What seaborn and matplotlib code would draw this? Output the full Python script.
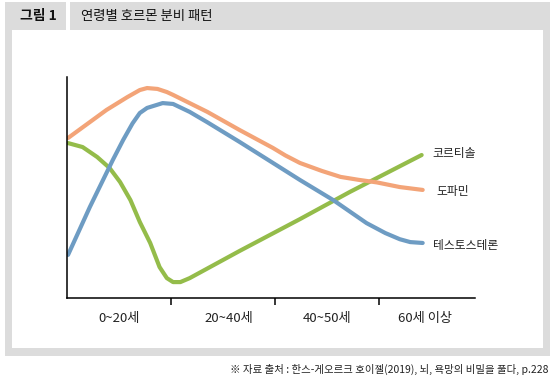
import numpy as np
import matplotlib.pyplot as plt
import pandas as pd
import seaborn as sns
from matplotlib.patches import Rectangle

# values (x: age segments 0..4, y: relative level 0..100)
dopamine_x = [0.01, 0.38, 0.58, 0.70, 0.77, 0.87, 0.96, 1.02, 1.35, 1.66, 1.98,
              2.10, 2.24, 2.45, 2.63, 2.80, 2.98, 3.20, 3.42]
dopamine_y = [72.4, 85.1, 90.9, 94.1, 95.0, 94.6, 93.2, 91.9, 84.2, 76.0, 67.9,
              64.5, 61.1, 57.5, 54.8, 53.5, 52.3, 50.2, 48.9]

testo_x = [0.01, 0.22, 0.44, 0.54, 0.63, 0.70, 0.77, 0.92, 1.02, 1.18, 1.35, 1.66,
           1.92, 2.24, 2.56, 2.88, 3.06, 3.20, 3.30, 3.42]
testo_y = [19.5, 41.2, 62.4, 71.5, 79.0, 83.7, 86.0, 88.2, 87.8, 84.2, 79.5, 70.6,
           62.9, 53.4, 44.3, 33.9, 29.4, 26.6, 25.3, 24.9]

cortisol_x = [0.01, 0.15, 0.29, 0.41, 0.51, 0.61, 0.70, 0.80, 0.89, 0.96, 1.02,
              1.09, 1.18, 1.66, 2.24, 2.72, 3.41]
cortisol_y = [70.1, 68.3, 63.8, 58.8, 52.5, 44.3, 34.4, 24.9, 14.0, 9.0, 7.2,
              7.2, 9.0, 21.3, 35.7, 48.0, 64.7]

series_names = ['코르티솔', '도파민', '테스토스테론']
age_labels = ['0~20세', '20~40세', '40~50세', '60세 이상']
label_pos = [0.5, 1.56, 2.5, 3.44]

title_tag = '그림 1'
title_text = '연령별 호르몬 분비 패턴'
source_text = '※ 자료 출처 : 한스-게오르크 호이젤(2019), 뇌, 욕망의 비밀을 풀다, p.228'

colors = {'코르티솔': '#94bc4a', '도파민': '#f3a478', '테스토스테론': '#6e9cc3'}

df = pd.concat([
    pd.DataFrame({'x': cortisol_x, 'y': cortisol_y, 'hormone': '코르티솔'}),
    pd.DataFrame({'x': dopamine_x, 'y': dopamine_y, 'hormone': '도파민'}),
    pd.DataFrame({'x': testo_x, 'y': testo_y, 'hormone': '테스토스테론'}),
])

sns.set_style('white')
plt.rcParams['font.family'] = ['Noto Sans CJK KR', 'DejaVu Sans']

W, H = 558, 380
fig = plt.figure(figsize=(W / 100, H / 100), dpi=100)
fig.patch.set_facecolor('white')

gray = '#dcdcdc'

def px_rect(x0, y0, x1, y1):
    # pixel box (top-left origin) -> figure rectangle
    fig.patches.append(Rectangle((x0 / W, 1 - y1 / H), (x1 - x0) / W, (y1 - y0) / H,
                                 transform=fig.transFigure, facecolor=gray,
                                 edgecolor='none', zorder=0))

px_rect(5, 2, 66, 30)      # tag box
px_rect(70, 2, 550, 30)    # title bar
px_rect(5, 30, 12, 356)    # left strip
px_rect(543, 30, 550, 356) # right strip
px_rect(5, 348, 550, 356)  # bottom strip

fig.text(20 / W, 1 - 16 / H, title_tag, fontsize=10, fontweight='bold',
         va='center', ha='left', color='#111111')
fig.text(81 / W, 1 - 16 / H, title_text, fontsize=9.6, fontweight='medium',
         va='center', ha='left', color='#111111')
fig.text(548 / W, 1 - 369 / H, source_text, fontsize=7.5,
         va='center', ha='right', color='#222222')

ax = fig.add_axes([67 / W, 82 / H, 408 / W, 221 / H])
ax.set_facecolor('none')
sns.lineplot(data=df, x='x', y='y', hue='hormone', palette=colors, sort=False,
             estimator=None, linewidth=3.0, legend=False, ax=ax,
             solid_capstyle='round', solid_joinstyle='round')

ax.set_xlim(0, 3.923)
ax.set_ylim(0, 100)
ax.set_xlabel('')
ax.set_ylabel('')
for s in ['top', 'right']:
    ax.spines[s].set_visible(False)
for s in ['left', 'bottom']:
    ax.spines[s].set_color('black')
    ax.spines[s].set_linewidth(1.1)
ax.set_yticks([])
ax.set_xticks([1, 2, 3])
ax.set_xticklabels([])
ax.tick_params(axis='x', which='major', direction='out', length=5, width=1.1,
               color='black', bottom=True)
ax.set_xticks(label_pos, minor=True)
ax.set_xticklabels(age_labels, minor=True)
ax.tick_params(axis='x', which='minor', length=0, pad=10, labelsize=9.5,
               labelcolor='#222222')

# end labels next to each line
ends = {'코르티솔': (cortisol_x[-1], cortisol_y[-1]),
        '도파민': (dopamine_x[-1], dopamine_y[-1]),
        '테스토스테론': (testo_x[-1], testo_y[-1])}
offsets = {'코르티솔': (0.10, 0.5), '도파민': (0.13, -0.8), '테스토스테론': (0.10, -1.3)}
for name in series_names:
    ex, ey = ends[name]
    dx, dy = offsets[name]
    ax.text(ex + dx, ey + dy, name, fontsize=8.5, va='center', ha='left',
            color='#222222', clip_on=False)

fig.savefig('out.png', dpi=100)
